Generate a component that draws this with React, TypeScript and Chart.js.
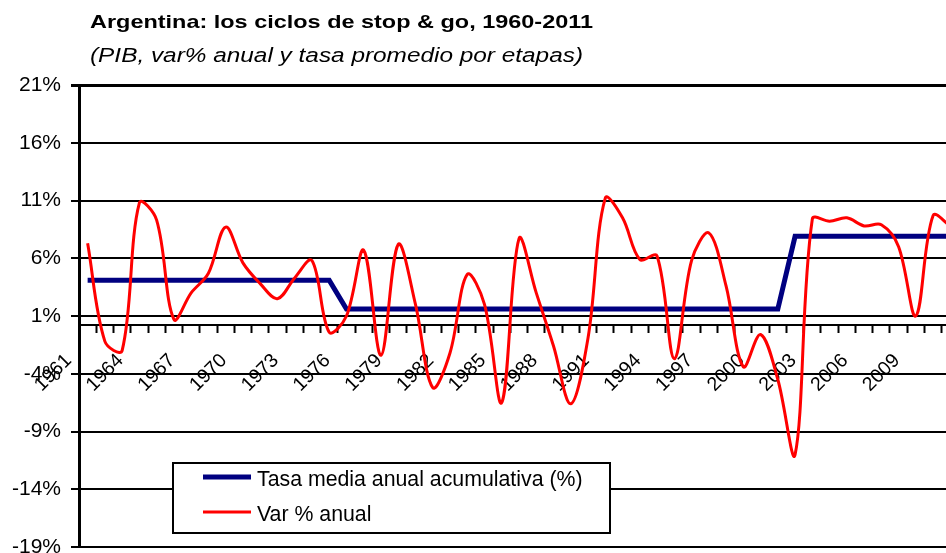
import React, { useEffect, useRef } from 'react';
import { Chart, registerables } from 'chart.js';

Chart.register(...registerables);

const TITLE = 'Argentina: los ciclos de stop & go, 1960-2011';
const SUBTITLE = '(PIB, var% anual y tasa promedio por etapas)';

const years = [
  '1961', '1962', '1963', '1964', '1965', '1966', '1967', '1968', '1969', '1970',
  '1971', '1972', '1973', '1974', '1975', '1976', '1977', '1978', '1979', '1980',
  '1981', '1982', '1983', '1984', '1985', '1986', '1987', '1988', '1989', '1990',
  '1991', '1992', '1993', '1994', '1995', '1996', '1997', '1998', '1999', '2000',
  '2001', '2002', '2003', '2004', '2005', '2006', '2007', '2008', '2009', '2010',
  '2011',
];

// Var % anual (PIB)
const varAnual = [
  7.3, -1.2, -2.0, 10.8, 9.3, 0.7, 3.0, 4.7, 8.7, 5.6,
  3.8, 2.5, 4.3, 5.8, -0.4, 1.0, 6.7, -2.4, 7.2, 2.0,
  -5.2, -2.2, 4.6, 2.0, -6.5, 7.7, 3.0, -1.6, -6.6, -0.9,
  11.2, 9.5, 5.9, 6.2, -2.7, 5.8, 8.2, 3.6, -3.4, -0.6,
  -4.5, -11.0, 9.4, 9.2, 9.5, 8.8, 8.9, 7.0, 1.0, 9.7,
  8.8,
];

// Tasa media anual acumulativa por etapas (%)
const tasaMedia = [
  4.1, 4.1, 4.1, 4.1, 4.1, 4.1, 4.1, 4.1, 4.1, 4.1,
  4.1, 4.1, 4.1, 4.1, 4.1, 1.6, 1.6, 1.6, 1.6, 1.6,
  1.6, 1.6, 1.6, 1.6, 1.6, 1.6, 1.6, 1.6, 1.6, 1.6,
  1.6, 1.6, 1.6, 1.6, 1.6, 1.6, 1.6, 1.6, 1.6, 1.6,
  1.6, 7.9, 7.9, 7.9, 7.9, 7.9, 7.9, 7.9, 7.9, 7.9,
  7.9,
];

const seriesLabels = ['Tasa media anual acumulativa (%)', 'Var % anual'];

const Y_MIN = -19;
const Y_MAX = 21;
const Y_STEP = 5;
const X_AXIS_AT = 0.2;
const LABEL_EVERY = 3;

const FONT = '"Liberation Sans", Arial, Helvetica, sans-serif';

const titlePlugin = {
  id: 'stretchedTitle',
  afterDraw(chart: any) {
    const ctx = chart.ctx as CanvasRenderingContext2D;
    const draw = (text: string, font: string, x: number, y: number, w: number) => {
      ctx.save();
      ctx.font = font;
      ctx.fillStyle = '#000';
      ctx.textAlign = 'left';
      ctx.textBaseline = 'alphabetic';
      const m = ctx.measureText(text).width;
      ctx.translate(x, y);
      ctx.scale(w / m, 1);
      ctx.fillText(text, 0, 0);
      ctx.restore();
    };
    draw(TITLE, `bold 19px ${FONT}`, 90, 28, 503);
    draw(SUBTITLE, `italic 19.5px ${FONT}`, 90, 62, 493);
  },
};

const boxLegendPlugin = {
  id: 'boxLegend',
  afterDraw(chart: any) {
    const ctx = chart.ctx as CanvasRenderingContext2D;
    const x0 = 173, y0 = 463, w = 437, h = 70;
    ctx.save();
    ctx.fillStyle = '#fff';
    ctx.fillRect(x0, y0, w, h);
    ctx.strokeStyle = '#000';
    ctx.lineWidth = 2;
    ctx.strokeRect(x0, y0, w, h);
    const rows = [477, 512];
    chart.data.datasets.forEach((ds: any, i: number) => {
      const y = rows[i];
      ctx.strokeStyle = ds.borderColor;
      ctx.lineWidth = ds.borderWidth;
      ctx.lineCap = 'butt';
      ctx.beginPath();
      ctx.moveTo(203, y);
      ctx.lineTo(251, y);
      ctx.stroke();
      ctx.fillStyle = '#000';
      ctx.font = `21.3px ${FONT}`;
      ctx.textAlign = 'left';
      ctx.textBaseline = 'alphabetic';
      ctx.fillText(ds.label, 257, y + 9);
    });
    ctx.restore();
  },
};

export default function App() {
  const ref = useRef<HTMLCanvasElement>(null);

  useEffect(() => {
    const chart = new Chart(ref.current as HTMLCanvasElement, {
      type: 'line',
      data: {
        labels: years,
        datasets: [
          {
            label: seriesLabels[0],
            data: tasaMedia,
            borderColor: '#000080',
            backgroundColor: '#000080',
            borderWidth: 5,
            tension: 0,
            pointRadius: 0,
            borderJoinStyle: 'miter',
            order: 1,
          },
          {
            label: seriesLabels[1],
            data: varAnual,
            borderColor: '#FF0000',
            backgroundColor: '#FF0000',
            borderWidth: 3,
            tension: 0.35,
            pointRadius: 0,
            order: 0,
          },
        ],
      },
      options: {
        animation: false,
        responsive: false,
        maintainAspectRatio: false,
        events: [],
        layout: { padding: { top: 85, bottom: 33, left: 0, right: 3 } },
        plugins: {
          legend: { display: false },
          title: { display: false },
          tooltip: { enabled: false },
        },
        scales: {
          x: {
            type: 'category',
            position: { y: X_AXIS_AT } as any,
            offset: true,
            grid: {
              offset: true,
              drawOnChartArea: false,
              drawTicks: true,
              tickLength: 7,
              tickWidth: 2,
              tickColor: '#000',
            },
            border: { display: true, color: '#000', width: 2 },
            ticks: {
              autoSkip: false,
              minRotation: 45,
              maxRotation: 45,
              padding: 17,
              labelOffset: -19,
              color: '#000',
              font: { family: FONT, size: 19.5 },
              callback: (_v: any, i: number) => (i % LABEL_EVERY === 0 ? years[i] : ''),
            },
            afterFit: (s: any) => {
              s.height = 0;
              s.paddingLeft = 0;
              s.paddingRight = 0;
            },
          },
          y: {
            min: Y_MIN,
            max: Y_MAX,
            ticks: {
              stepSize: Y_STEP,
              color: '#000',
              padding: 10,
              font: { family: FONT, size: 21 },
              callback: (v: any) => `${v}%`,
            },
            grid: {
              color: '#000',
              lineWidth: (c: any) => (c.tick && c.tick.value === Y_MAX ? 3 : 2),
              drawTicks: true,
              tickLength: 8,
            },
            border: { display: true, color: '#000', width: 3 },
            afterFit: (s: any) => {
              s.width = 79;
            },
          },
        },
      },
      plugins: [titlePlugin, boxLegendPlugin],
    } as any);
    return () => chart.destroy();
  }, []);

  return (
    <div
      style={{
        position: 'fixed',
        left: 0,
        top: 0,
        width: 946,
        height: 553,
        overflow: 'hidden',
        background: '#fff',
      }}
    >
      <canvas ref={ref} width={962} height={580} style={{ display: 'block' }} />
    </div>
  );
}
